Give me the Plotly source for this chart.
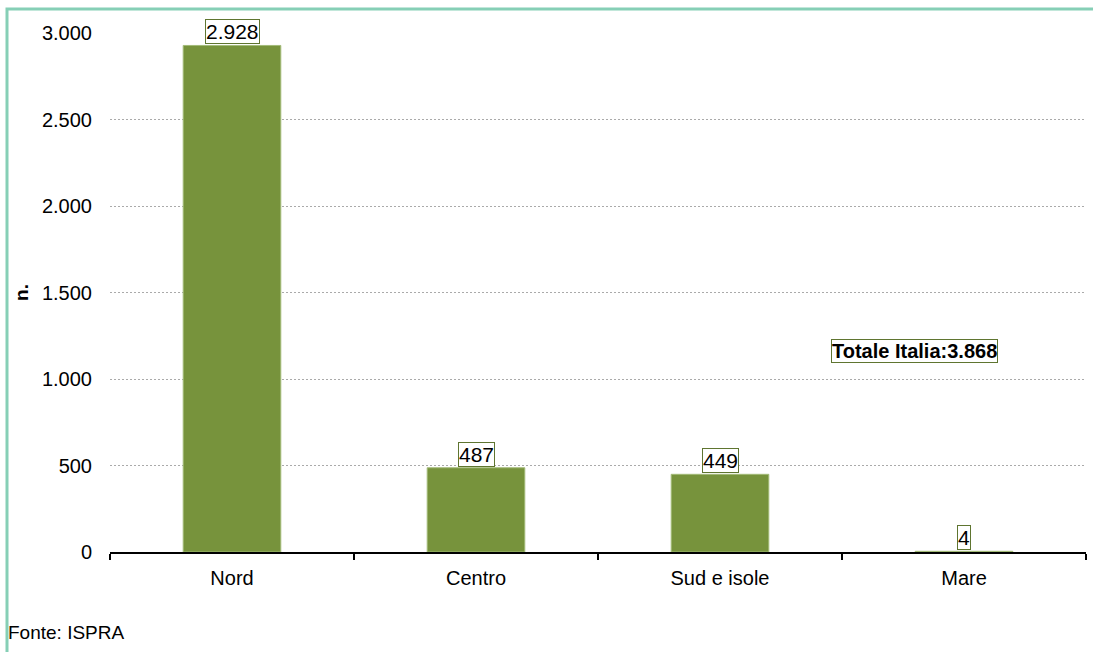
import plotly.graph_objects as go

categories = ["Nord", "Centro", "Sud e isole", "Mare"]
values = [2928, 487, 449, 4]
value_labels = ["2.928", "487", "449", "4"]
tick_vals = [0, 500, 1000, 1500, 2000, 2500, 3000]
tick_text = ["0", "500", "1.000", "1.500", "2.000", "2.500", "3.000"]
total_label = "Totale Italia:3.868"
source_label = "Fonte: ISPRA"

W, H = 1093, 652
ml, mr, mt, mb = 110, 7, 33, 100
pw, ph = W - ml - mr, H - mt - mb

fig = go.Figure()
fig.add_trace(go.Bar(
    x=categories, y=values, width=0.4,
    marker=dict(color="#77933c", line=dict(color="#a3bb78", width=1)),
    hoverinfo="skip",
))

for c, v, t in zip(categories, values, value_labels):
    fig.add_annotation(
        x=c, y=v, xref="x", yref="y", text=t, showarrow=False,
        yanchor="bottom", yshift=1,
        font=dict(family="Liberation Sans, Arial", size=21, color="#000000"),
        bgcolor="#ffffff", bordercolor="#5f7530", borderwidth=1, borderpad=0,
    )

fig.add_annotation(
    x=(914 - ml) / pw, y=1 - (351 - mt) / ph, xref="paper", yref="paper",
    xanchor="center", yanchor="middle",
    text="<b>" + total_label + "</b>", showarrow=False,
    font=dict(family="Liberation Sans, Arial", size=20, color="#000000"),
    bgcolor="#ffffff", bordercolor="#5f7530", borderwidth=1, borderpad=0,
)

fig.add_annotation(
    x=(6 - ml) / pw, y=1 - (632 - mt) / ph, xref="paper", yref="paper",
    xanchor="left", yanchor="middle",
    text=source_label, showarrow=False,
    font=dict(family="Liberation Sans, Arial", size=19, color="#000000"),
)

# outer border (top and left visible)
fig.add_shape(
    type="rect", xref="paper", yref="paper",
    x0=(7 - ml) / pw, y0=1 - (660 - mt) / ph, x1=(1100 - ml) / pw, y1=1 + (mt - 9) / ph,
    line=dict(color="#86cfb6", width=3), layer="below",
)

fig.update_layout(
    width=W, height=H,
    margin=dict(l=ml, r=mr, t=mt, b=mb),
    paper_bgcolor="#ffffff", plot_bgcolor="#ffffff",
    showlegend=False,
    font=dict(family="Liberation Sans, Arial", size=20, color="#000000"),
    bargap=0.6,
)
fig.update_xaxes(
    showline=True, linecolor="#000000", linewidth=2,
    ticks="outside", tickson="boundaries", ticklen=6, tickcolor="#000000", tickwidth=2,
    tickfont=dict(size=20), showgrid=False, ticklabelstandoff=7,
)
fig.update_yaxes(
    range=[0, 3000], tickvals=tick_vals, ticktext=tick_text,
    showline=False, showgrid=True, gridcolor="#aaaaaa", griddash="2px,2px", gridwidth=1,
    zeroline=False, tickfont=dict(size=20), ticks="", ticklabelstandoff=17,
    title=dict(text="<b>n.</b>", font=dict(size=19), standoff=8),
)

fig.write_html("out.html", config={"displayModeBar": False},
               post_script="document.body.style.margin='0px';")
